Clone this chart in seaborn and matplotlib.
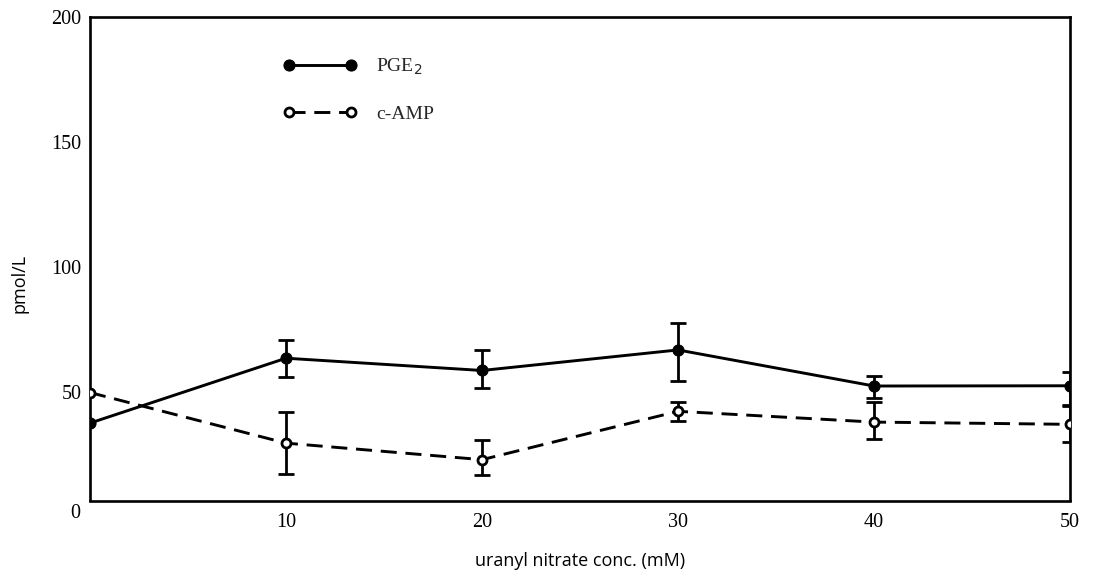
import numpy as np
import pandas as pd
import matplotlib
matplotlib.use("Agg")
import matplotlib.pyplot as plt
import seaborn as sns

# ---- data ----
conc = [0, 10, 20, 30, 40, 50]
pge2_mean = [37.7, 63.6, 58.7, 66.9, 52.5, 52.6]
pge2_upper = [37.7, 71.0, 67.0, 77.7, 56.5, 57.9]
pge2_lower = [37.7, 56.0, 51.7, 54.7, 47.8, 44.9]
camp_mean = [49.9, 29.7, 23.1, 42.4, 38.1, 37.2]
camp_upper = [49.9, 42.1, 31.0, 46.1, 46.1, 44.6]
camp_lower = [49.9, 17.4, 16.8, 38.4, 31.2, 30.3]
xtick_vals = [10, 20, 30, 40, 50]
ytick_vals = [50, 100, 150, 200]

sns.set_theme(style="white")
plt.rcParams["font.family"] = ["Liberation Serif", "DejaVu Serif"]

fig = plt.figure(figsize=(10.95, 5.77), dpi=100)
ax = fig.add_axes([90 / 1095, 1 - 500.5 / 577, 980 / 1095, 484 / 577])

df = pd.DataFrame({
    "conc": conc * 2,
    "value": pge2_mean + camp_mean,
    "series": ["PGE$_2$"] * len(conc) + ["c-AMP"] * len(conc),
})

sns.lineplot(data=df[df.series == "PGE$_2$"], x="conc", y="value", ax=ax,
             color="black", lw=2.1, marker="o", markersize=8,
             markerfacecolor="black", markeredgecolor="black",
             label="PGE$_2$", zorder=3)
sns.lineplot(data=df[df.series == "c-AMP"], x="conc", y="value", ax=ax,
             color="black", lw=2.1, marker="o", markersize=6.5,
             markerfacecolor="white", markeredgecolor="black", markeredgewidth=2,
             label="c-AMP", zorder=3)
ax.lines[-1].set_dashes((5.5, 3))

pm = np.array(pge2_mean)
cm = np.array(camp_mean)
for mean, lo, hi in [(pm, pge2_lower, pge2_upper), (cm, camp_lower, camp_upper)]:
    err = np.vstack([mean - np.array(lo), np.array(hi) - mean])
    ax.errorbar(conc[1:], mean[1:], yerr=err[:, 1:], fmt="none", ecolor="black",
                elinewidth=2, capsize=5.5, capthick=2, zorder=2)

ax.set_xlim(0, 50)
ax.set_ylim(6.8, 199.6)
ax.set_xticks(xtick_vals)
ax.set_yticks(ytick_vals)
ax.tick_params(axis="both", direction="in", length=8, width=1.6, colors="black",
               labelsize=14.5)
ax.tick_params(axis="x", pad=9)
ax.tick_params(axis="y", pad=6)
for s in ax.spines.values():
    s.set_visible(True)
    s.set_color("black")
    s.set_linewidth(1.9)

fig.text(75 / 1095, 1 - 514 / 577, "0", ha="center", va="center", fontsize=14.5,
         color="black")

ax.set_xlabel("uranyl nitrate conc. (mM)", fontsize=13, family=["Open Sans", "DejaVu Sans"],
              color="black")
ax.set_ylabel("pmol/L", fontsize=13, family=["Open Sans", "DejaVu Sans"], color="black")
ax.xaxis.set_label_coords(0.5, (500.5 - 552) / 484)
ax.yaxis.set_label_coords((29 - 90) / 980, (500.5 - 283) / 484)

leg = ax.legend(loc="upper left", bbox_to_anchor=(283 / 1095, 1 - 57 / 577),
                bbox_transform=fig.transFigure, frameon=False, numpoints=2,
                handlelength=3.8, handletextpad=1.0, labelspacing=1.45,
                borderpad=0, borderaxespad=0, fontsize=14)

fig.savefig("out.png", dpi=100)
